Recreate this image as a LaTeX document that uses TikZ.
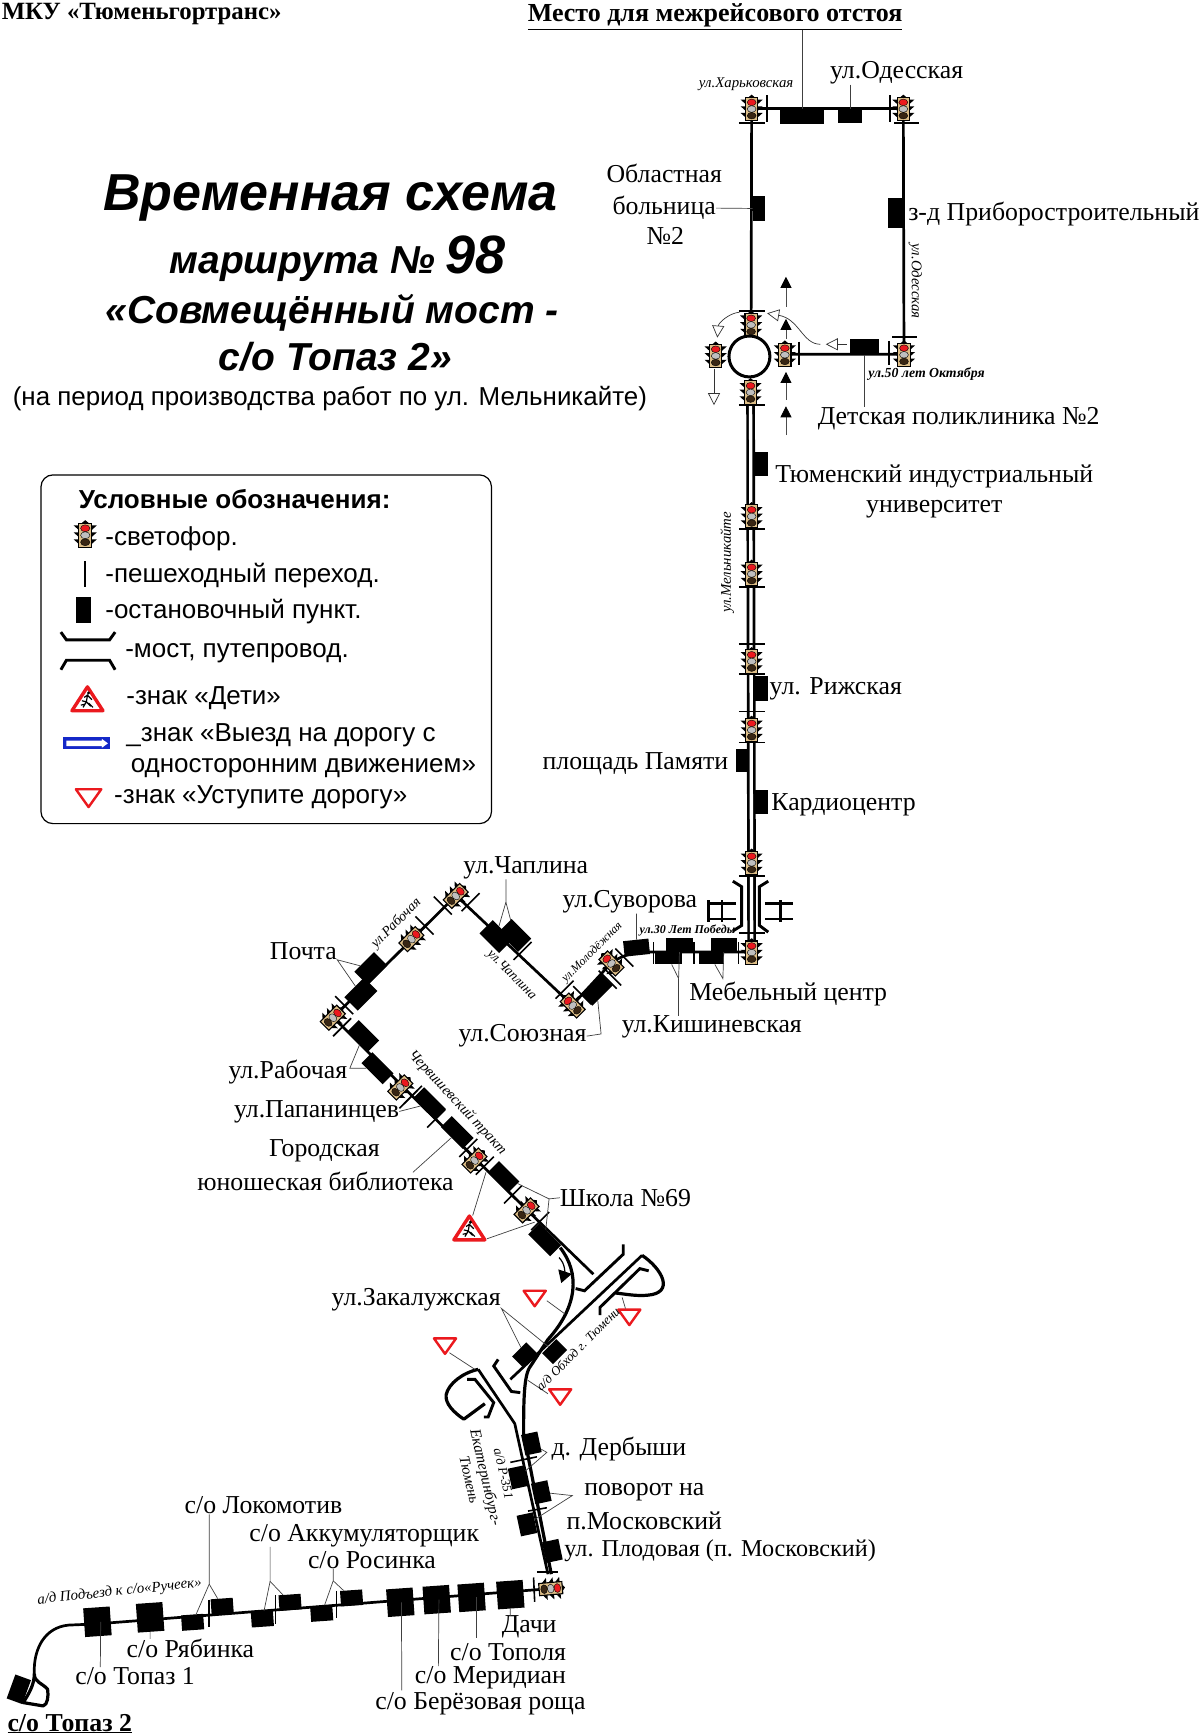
\documentclass[tikz,border=0pt]{standalone}
\usepackage{fontspec}
\setmainfont{Liberation Serif}
\newfontfamily\arialf{Liberation Sans}
\usetikzlibrary{arrows.meta}
\definecolor{lamptan}{RGB}{222,190,135}
\definecolor{signred}{RGB}{235,25,30}
\definecolor{signblue}{RGB}{20,40,200}
\tikzset{
  road/.style={line width=2.7pt},
  dblroad/.style={double,line width=2.7pt,double distance=3.3pt},
  ramp/.style={line width=3.2pt,line join=round},
  brace/.style={line width=2.9pt,line join=miter},
  crossing/.style={line width=1.6pt},
  leader/.style={line width=.7pt,black!75},
  stopbox/.style 2 args={fill=black,inner sep=0,minimum width=#1*1.107pt,minimum height=#2*1.107pt},
  lbl/.style={font=\fontsize{25.8}{28}\selectfont,inner sep=0,yshift=-2.2pt},
  strname/.style={font=\itshape\fontsize{14.8}{16}\selectfont,inner sep=0},
  strthin/.style={font=\itshape\fontsize{13}{14}\selectfont,inner sep=0},
  strbold/.style={font=\bfseries\itshape\fontsize{13.8}{15}\selectfont,inner sep=0},
  lgd/.style={font=\arialf\fontsize{26}{28}\selectfont,inner sep=0,anchor=west,yshift=-2.2pt},
  ttl/.style={font=\arialf\bfseries\itshape,inner sep=0},
  tlight/.pic={
    \fill[black] (-5,-8) -- (-10,-8) -- (-5,-3.5) -- cycle (-5,-2) -- (-10,-2) -- (-5,2.5) -- cycle (-5,4) -- (-10,4) -- (-5,8.5) -- cycle;
    \fill[black] (5,-8) -- (10,-8) -- (5,-3.5) -- cycle (5,-2) -- (10,-2) -- (5,2.5) -- cycle (5,4) -- (10,4) -- (5,8.5) -- cycle;
    \fill[black] (-3,-10) -- (0,-12.5) -- (3,-10) -- cycle;
    \filldraw[fill=lamptan,draw=black,line width=1.1pt] (-5.5,-10) rectangle (5.5,11);
    \filldraw[fill=signred,draw=black,line width=.4pt] (0,-5.5) ellipse (4 and 3);
    \filldraw[fill=black!25,draw=black,line width=.4pt] (0,.5) ellipse (4 and 3);
    \filldraw[fill=black!70!brown,draw=black,line width=.4pt] (0,6.5) ellipse (4 and 3);
  },
  yieldsign/.pic={
    \draw[signred,line width=2.4pt,line join=round,fill=white] (-10,-7) -- (10,-7) -- (0,7) -- cycle;
  },
  kidsign/.pic={
    \draw[signred,line width=3.4pt,line join=round,fill=white] (-14,11) -- (14,11) -- (0,-10.5) -- cycle;
    \draw[black,line width=1.2pt] (-4,8) -- (-1,3) -- (3,7) (-5,2) -- (-1,3) -- (0,-3) -- (4,1) (-3,-1) -- (0,-3) (-2,5) -- (-6,6) (1,4) -- (5,8);
    \fill[black] (1,-5) circle (1.5);
  }
}
\begin{document}
\begin{tikzpicture}[x=1.107pt,y=-1.107pt]
  \useasboundingbox (0,0) rectangle (1084,1567.3);
  \fill[white] (0,0) rectangle (1084,1567.3);
  % signals
  \coordinate (sigHark) at (679,98);
  \coordinate (sigOdes) at (816,98);
  \coordinate (sigFifty) at (816.6,320);
  \coordinate (sigRingN) at (678.5,293);
  \coordinate (sigRingE) at (709,320);
  \coordinate (sigRingW) at (646.5,321);
  \coordinate (sigRingS) at (678,354);
  \coordinate (sigMelA) at (679,466);
  \coordinate (sigMelB) at (679,518);
  \coordinate (sigMelC) at (679,597);
  \coordinate (sigMelD) at (679,659);
  \coordinate (sigBrN) at (679,779);
  \coordinate (sigBrS) at (679,860);
  \coordinate (sigMol) at (552,870);
  \coordinate (sigSoy) at (517,908);
  \coordinate (sigChap) at (412,809);
  \coordinate (sigRab) at (372,848);
  \coordinate (sigPost) at (301,919);
  \coordinate (sigPap) at (362,982);
  \coordinate (sigLib) at (429,1048);
  \coordinate (sigSch) at (476,1093);
  \coordinate (sigPlod) at (498,1435);
  % road
  \draw[road] (sigHark) -- (sigOdes) -- (sigFifty) -- (sigRingE);
  \draw[road] (sigHark) -- (sigRingN);
  \draw[dblroad] (sigRingS) -- (sigBrS);
  \draw[road] (sigBrS) -- (590,860) .. controls (575,860) and (565,861) .. (sigMol) -- (sigSoy) -- (sigChap) -- (sigPost) -- (sigSch) -- (536,1151);
  \draw[ramp] (506,1127) .. controls (524,1150) and (522,1180) .. (495,1210) -- (478,1236) .. controls (473,1245) and (473,1270) .. (473,1295) -- (498,1422);
  \draw[road] (580,1134) -- (461,1246);
  \draw[ramp] (580,1134) .. controls (598,1146) and (610,1168) .. (585,1170) .. controls (575,1171) and (565,1169) .. (556,1168);
  \draw[road] (432,1237) -- (465,1286) -- (495,1422);
  \draw[ramp] (432,1237) .. controls (418,1240) and (405,1250) .. (403,1260) .. controls (402,1268) and (410,1276) .. (419,1282) -- (438,1268);
  \draw[road] (sigPlod) -- (86,1467) -- (62,1468) .. controls (40,1470) and (30,1490) .. (31,1512);
  \draw[ramp] (31,1512) .. controls (31,1520) and (38,1520) .. (43,1526) .. controls (44,1532) and (43,1540) .. (39,1541) -- (21,1538) .. controls (26,1530) and (31,1522) .. (31,1512);
  \draw[brace] (542,1188) -- (542,1181) -- (578,1146) -- (586,1148);
  \draw[brace] (563,1124) -- (563,1133) -- (528,1166) -- (520,1164);
  \draw[brace] (450,1228) -- (446,1234) -- (462,1257) -- (470,1258);
  \draw[brace] (422,1246) -- (429,1246) -- (446,1267) -- (441,1280) -- (437,1280);
  % bridge
  \draw[brace] (662,796) -- (670,801) -- (670,836) -- (662,841);
  \draw[brace] (694,796) -- (686,801) -- (686,836) -- (694,842);
  \draw[line width=2.5pt] (640,813) -- (640,833) (652,813) -- (652,833) (640,816) -- (665,816) (640,830) -- (665,830);
  \draw[line width=2.5pt] (705,813) -- (705,833) (691,816) -- (716,816) (691,830) -- (716,830);
  % stops
  \node[stopbox={39.5}{13.5}] (stDepot) at (724.5,105.3) {};
  \node[stopbox={22}{12.5}] (stOdes) at (768,104.8) {};
  \node[stopbox={11}{22.5}] (stObl) at (685.5,188.3) {};
  \node[stopbox={15}{26.5}] (stZavod) at (809.5,192.3) {};
  \node[stopbox={26}{14}] (stDet) at (781,313.4) {};
  \node[stopbox={14}{22}] (stTiu) at (687,419) {};
  \node[stopbox={14}{22}] (stRig) at (687,622) {};
  \node[stopbox={12}{20}] (stPam) at (671,687) {};
  \node[stopbox={13}{21}] (stCard) at (687.5,724.5) {};
  \node[stopbox={24}{13}] (stKishA) at (614,853.5) {};
  \node[stopbox={24}{11}] (stKishB) at (604,865.5) {};
  \node[stopbox={24}{13}] (stMebA) at (654,853.5) {};
  \node[stopbox={23}{11}] (stMebB) at (642.5,865.5) {};
  \node[stopbox={23}{14},rotate=6] (stSuv) at (575,856) {};
  \node[stopbox={26}{15},rotate=45] (stSoy) at (539,894) {};
  \node[stopbox={25}{17},rotate=-45] (stChapA) at (448,846) {};
  \node[stopbox={25}{17},rotate=-45] (stChapB) at (465,845) {};
  \node[stopbox={25}{17},rotate=45] (stPostA) at (335,875) {};
  \node[stopbox={25}{17},rotate=45] (stPostB) at (326,898) {};
  \node[stopbox={26}{15},rotate=-45] (stRabA) at (328,936) {};
  \node[stopbox={27}{14},rotate=-45] (stRabB) at (341,965) {};
  \node[stopbox={28}{14},rotate=-45] (stPap) at (388,997) {};
  \node[stopbox={28}{14},rotate=-45] (stBib) at (413,1023) {};
  \node[stopbox={26}{14},rotate=-45] (stSchA) at (455,1063) {};
  \node[stopbox={28}{14},rotate=-45] (stSchB) at (492,1120) {};
  \node[stopbox={18}{14},rotate=45] (stZakA) at (474,1224) {};
  \node[stopbox={18}{14},rotate=45] (stZakB) at (501,1221) {};
  \node[stopbox={15}{19},rotate=12] (stDerA) at (480,1304) {};
  \node[stopbox={15}{19},rotate=12] (stDerB) at (468,1334.5) {};
  \node[stopbox={15}{19},rotate=12] (stPovA) at (489,1348) {};
  \node[stopbox={15}{19},rotate=12] (stPovB) at (476,1377) {};
  \node[stopbox={15}{19},rotate=12] (stPlod) at (499,1401) {};
  \node[stopbox={24}{25},rotate=4] (stDach) at (461,1440.5) {};
  \node[stopbox={24}{25},rotate=4] (stTop) at (426,1443) {};
  \node[stopbox={24}{25},rotate=4] (stMer) at (394.5,1445) {};
  \node[stopbox={24}{25},rotate=4] (stBer) at (361.6,1447.4) {};
  \node[stopbox={20}{14},rotate=4] (stRosA) at (317.6,1443.5) {};
  \node[stopbox={20}{14},rotate=4] (stRosB) at (290.6,1457.4) {};
  \node[stopbox={20}{14},rotate=4] (stAkkA) at (262,1447.4) {};
  \node[stopbox={20}{14},rotate=4] (stAkkB) at (237,1462.5) {};
  \node[stopbox={20}{14},rotate=4] (stLokA) at (200.7,1451) {};
  \node[stopbox={20}{14},rotate=4] (stLokB) at (174,1465.5) {};
  \node[stopbox={24}{26},rotate=4] (stRyab) at (135.6,1461) {};
  \node[stopbox={24}{26},rotate=4] (stTopOne) at (88,1465) {};
  \node[stopbox={15}{23},rotate=-20] (stTopTwo) at (17,1526) {};
  % pedestrian crossings
  \foreach \y in {111,281,366,478,530.5,582,609,642.6,670.6,791.5,843}{
    \draw[crossing] (667.5,\y) -- (691,\y);
  }
  \draw[crossing] (692.6,86) -- (692.6,110);
  \draw[crossing] (804,86) -- (804,110);
  \draw[crossing] (808,111) -- (830,111);
  \draw[crossing] (721.6,308.5) -- (721.6,330);
  \draw[crossing] (803,308) -- (803,330);
  \draw[crossing] (806,304.4) -- (828,304.4);
  \foreach \x in {590.5,627,667}{
    \draw[crossing] (\x,851) -- (\x,871);
  }
  \foreach \cx/\cy in {400/818,383.5/836,311/908,526/899,549/885,553/882,564/865}{
    \draw[crossing] (\cx,\cy) ++(45:11.5) -- ++(225:23);
  }
  \foreach \cx/\cy in {425/815,472/859,510/894,309/928,373/989,369/993,394/1010.5,423/1037,438/1053,463.5/1079,488/1103}{
    \draw[crossing] (\cx,\cy) ++(-45:11.5) -- ++(135:23);
  }
  \draw[crossing] (461,1321) -- (485,1316);
  \draw[crossing] (477,1365) -- (494,1362);
  \draw[crossing] (485,1420) -- (504,1420);
  \draw[crossing] (482,1425) -- (483,1447);
  \draw[crossing] (188.6,1445) -- (188.6,1470);
  \draw[crossing] (249,1441) -- (249,1467);
  \draw[crossing] (304,1437) -- (304,1462);
  % signals on top
  \foreach \s in {sigHark,sigOdes,sigFifty,sigRingN,sigRingE,sigRingW,sigRingS,sigMelA,sigMelB,sigMelC,sigMelD,sigBrN,sigBrS}{
    \pic at (\s) {tlight};
  }
  \foreach \s in {sigChap,sigRab,sigPost,sigPap,sigLib,sigSch}{
    \pic[rotate=-45] at (\s) {tlight};
  }
  \foreach \s in {sigMol,sigSoy}{
    \pic[rotate=45] at (\s) {tlight};
  }
  \pic[rotate=-85] at (sigPlod) {tlight};
  \node[circle,draw,fill=white,line width=3pt,minimum size=37*1.107pt,inner sep=0] (ring) at (677,322) {};
  % traffic arrows
  \coordinate (upAa) at (710,277); \coordinate (upAb) at (710,250);
  \coordinate (upBa) at (710,306); \coordinate (upBb) at (710,288);
  \coordinate (upCa) at (710,361); \coordinate (upCb) at (710,336);
  \coordinate (upDa) at (710,393); \coordinate (upDb) at (710,367);
  \foreach \a/\b in {upAa/upAb,upBa/upBb,upCa/upCb,upDa/upDb}{
    \draw[line width=.8pt,black!70,-{Triangle[length=11pt,width=11pt,color=black]}] (\a) -- (\b);
  }
  \coordinate (wtAa) at (765,311); \coordinate (wtAb) at (746,311);
  \coordinate (wtBa) at (741,311); \coordinate (wtBb) at (693,283);
  \coordinate (wtCa) at (668,282); \coordinate (wtCb) at (648,305);
  \coordinate (wtDa) at (645,333); \coordinate (wtDb) at (645,366);
  \tikzset{wtarrow/.style={line width=.7pt,black!80,-{Triangle[open,fill=white,length=12pt,width=12pt]}}}
  \draw[wtarrow] (wtAa) -- (wtAb);
  \draw[wtarrow] (wtBa) .. controls (725,311) and (722,288) .. (wtBb);
  \draw[wtarrow] (wtCa) .. controls (658,283) and (649,292) .. (wtCb);
  \draw[wtarrow] (wtDa) -- (wtDb);
  \coordinate (trnA) at (505,1136);
  \coordinate (trnB) at (507,1159);
  \draw[line width=1.2pt,-{Triangle[length=12pt,width=14pt]}] (trnA) .. controls (511,1142) and (510,1150) .. (trnB);
  % signs
  \coordinate (ygA) at (483,1173);
  \coordinate (ygB) at (402,1216);
  \coordinate (ygC) at (506,1262);
  \coordinate (ygD) at (568.5,1190);
  \foreach \s in {ygA,ygB,ygC,ygD}{
    \pic at (\s) {yieldsign};
  }
  \coordinate (kidMain) at (424,1109);
  \pic at (kidMain) {kidsign};
  \coordinate (ygAe) at (510.4,1187);
  \coordinate (ygBe) at (429,1237);
  \coordinate (ygCe) at (477,1247);
  \coordinate (ygDe) at (562,1172);
  \draw[leader] (494,1175) -- (ygAe);
  \draw[leader] (406,1222) -- (ygBe);
  \draw[leader] (495,1259) -- (ygCe);
  \draw[leader] (565,1182) -- (ygDe);
  \coordinate (kidA) at (439,1059);
  \coordinate (kidB) at (483,1104);
  \draw[leader] (427,1098) -- (kidA);
  \draw[leader] (440,1119) -- (kidB);
  % names
  \node[font=\bfseries\fontsize{24.8}{27}\selectfont,inner sep=0] (org) at (128,13) {МКУ «Тюменьгортранс»};
  \node[font=\bfseries\fontsize{26}{28}\selectfont,inner sep=0] (depot) at (646,15) {\underline{Место для межрейсового отстоя}};
  \node[lbl] (lblOdes) at (810,64) {ул.Одесская};
  \node[lbl] (lblOblA) at (600,155) {Областная};
  \node[lbl] (lblOblB) at (600,186) {больница};
  \node[lbl] (lblOblC) at (601,211) {№2};
  \node[lbl] (lblZavod) at (952,191) {з-д Приборостроительный};
  \node[lbl] (lblDet) at (866,376) {Детская поликлиника №2};
  \node[lbl] (lblTiuA) at (844,428) {Тюменский индустриальный};
  \node[lbl] (lblTiuB) at (844,458) {университет};
  \node[lbl] (lblRig) at (755,620) {ул. Рижская};
  \node[lbl] (lblPam) at (574,688) {площадь Памяти};
  \node[lbl] (lblCard) at (762,725) {Кардиоцентр};
  \node[lbl] (lblChap) at (475,782) {ул.Чаплина};
  \node[lbl] (lblSuv) at (569,813) {ул.Суворова};
  \node[lbl] (lblPost) at (274,857) {Почта};
  \node[lbl] (lblMeb) at (712,896) {Мебельный центр};
  \node[lbl] (lblKish) at (643,926) {ул.Кишиневская};
  \node[lbl] (lblSoy) at (472,934) {ул.Союзная};
  \node[lbl] (lblRab) at (260,966) {ул.Рабочая};
  \node[lbl] (lblPap) at (286,1002) {ул.Папанинцев};
  \node[lbl] (lblGorA) at (293,1038) {Городская};
  \node[lbl] (lblGorB) at (294,1065) {юношеская библиотека};
  \node[lbl] (lblSch) at (565,1080) {Школа №69};
  \node[lbl] (lblZak) at (376,1172) {ул.Закалужская};
  \node[lbl] (lblDer) at (559,1307) {д. Дербыши};
  \node[lbl] (lblPovA) at (582,1346) {поворот на};
  \node[lbl] (lblPovB) at (582,1372) {п.Московский};
  \node[lbl,font=\fontsize{24.2}{26}\selectfont] (lblPlod) at (650.5,1399) {ул. Плодовая (п. Московский)};
  \node[lbl] (lblLok) at (238,1358) {с/о Локомотив};
  \node[lbl] (lblAkk) at (329,1385) {с/о Аккумуляторщик};
  \node[lbl] (lblRos) at (336,1407) {с/о Росинка};
  \node[lbl] (lblDach) at (478,1468) {Дачи};
  \node[lbl] (lblRyab) at (172,1487) {с/о Рябинка};
  \node[lbl] (lblTopl) at (459,1490) {с/о Тополя};
  \node[lbl] (lblTopOne) at (122,1512) {с/о Топаз 1};
  \node[lbl] (lblMer) at (443,1514) {с/о Меридиан};
  \node[lbl] (lblBer) at (434,1537) {с/о Берёзовая роща};
  \node[font=\bfseries\fontsize{25.8}{28}\selectfont,inner sep=0] (lblTopTwo) at (63,1557) {\underline{с/о Топаз 2}};
  % street names
  \node[strname] (strHark) at (674,76) {ул.Харьковская};
  \node[strname,rotate=-90] (strOdes) at (827,254) {ул.Одесская};
  \node[strbold] (strFifty) at (837,338) {ул.50 лет Октября};
  \node[strname,rotate=90] (strMel) at (657,508) {ул.Мельникайте};
  \node[strbold,font=\bfseries\itshape\fontsize{12}{14}\selectfont] (strPob) at (621,841) {ул.30 Лет Победы};
  \node[strname,font=\itshape\fontsize{14}{16}\selectfont,rotate=45] (strRab) at (358,834) {ул.Рабочая};
  \node[strname,font=\itshape\fontsize{13.5}{16}\selectfont,rotate=-45] (strChap) at (462,881) {ул.Чаплина};
  \node[strname,font=\itshape\fontsize{12}{14}\selectfont,rotate=45] (strMol) at (535,860.5) {ул.Молодёжная};
  \node[strname,rotate=-47] (strChv) at (413,996) {Червишевский тракт};
  \node[strthin,rotate=45] (strObh) at (522,1218.5) {а/д Обход г. Тюмени};
  \node[strthin,rotate=-77] (strRA) at (455,1331) {а/д Р-351};
  \node[strthin,font=\itshape\fontsize{15.5}{16}\selectfont,rotate=-77] (strRB) at (438,1334.5) {Екатеринбург-};
  \node[strname,rotate=-77] (strRC) at (424,1337) {Тюмень};
  \node[strname,rotate=6] (strRuch) at (108,1438) {а/д Подъезд к с/о«Ручеек»};
  % leaders
  \draw[leader] (depot.south -| stDepot) -- (stDepot);
  \draw[leader] (lblOdes.south -| stOdes) -- (stOdes);
  \draw[leader] (lblOblB.east) -- (stObl.west);
  \draw[leader] (stDet) -- (stDet |- lblDet.north);
  \draw[leader] (lblSuv.south -| stSuv) -- (stSuv);
  \coordinate (apChap) at (457,815);
  \draw[leader] (lblChap.south -| apChap) -- (apChap) -- (stChapA);
  \draw[leader] (apChap) -- (stChapB);
  \coordinate (apPost) at (304.6,867);
  \draw[leader] (stPostA) -- (apPost) -- (stPostB);
  \coordinate (apSoy) at (543,934);
  \draw[leader] (lblSoy.east) -- (apSoy) -- (stSoy);
  \coordinate (apKish) at (613,884);
  \draw[leader] (stKishB) -- (apKish) -- (stKishA);
  \draw[leader] (apKish) -- (apKish |- lblKish.north);
  \coordinate (apMeb) at (653,884);
  \draw[leader] (stMebB) -- (apMeb) -- (stMebA);
  \coordinate (apRab) at (316,965);
  \draw[leader] (stRabA) -- (apRab) -- (stRabB);
  \draw[leader] (lblPap.east) -- (stPap);
  \draw[leader] (stBib) -- (373,1059);
  \coordinate (apSch) at (496,1083);
  \draw[leader] (lblSch.west) -- (apSch) -- (stSchA);
  \draw[leader] (apSch) -- (stSchB);
  \coordinate (apZak) at (453,1182);
  \draw[leader] (stZakA) -- (apZak) -- (stZakB);
  \coordinate (apDer) at (494,1312);
  \draw[leader] (stDerA) -- (apDer) -- (stDerB);
  \coordinate (apPov) at (517,1351);
  \draw[leader] (stPovA) -- (apPov) -- (stPovB);
  \coordinate (apLok) at (189,1431);
  \draw[leader] (lblLok.south -| apLok) -- (apLok) -- (stLokB);
  \draw[leader] (apLok) -- (stLokA);
  \coordinate (apAkk) at (244,1428.5);
  \draw[leader] (lblAkk.south -| apAkk) -- (apAkk) -- (stAkkB);
  \draw[leader] (apAkk) -- (stAkkA);
  \coordinate (apRos) at (301,1428);
  \draw[leader] (lblRos.south -| apRos) -- (apRos) -- (stRosB);
  \draw[leader] (apRos) -- (stRosA);
  \draw[leader] (stRyab) -- (stRyab |- lblRyab.north);
  \draw[leader] (stTopOne) ++(3,0) -- (lblTopOne.north -| 90.6,0);
  \draw[leader] (stDach) -- (stDach |- lblDach.north);
  \draw[leader] (stTop) ++(4,0) -- (430,1480);
  \draw[leader] (stMer) ++(2,0) -- (396,1505);
  \draw[leader] (stBer) ++(1,0) -- (363,1527);
  % title
  \node[ttl,font=\arialf\bfseries\itshape\fontsize{52}{56}\selectfont] (ttlA) at (298.5,179) {Временная схема};
  \node[ttl,font=\arialf\bfseries\itshape\fontsize{39}{42}\selectfont] (ttlB) at (305,234) {маршрута № {\fontsize{54}{58}\selectfont 98}};
  \node[ttl,font=\arialf\bfseries\itshape\fontsize{39}{42}\selectfont] (ttlC) at (300,283) {«Совмещённый мост -};
  \node[ttl,font=\arialf\bfseries\itshape\fontsize{39}{42}\selectfont] (ttlD) at (303,322) {с/о Топаз 2»};
  \node[font=\arialf\fontsize{25.9}{28}\selectfont,inner sep=0] (ttlE) at (298,360) {(на период производства работ по ул. Мельникайте)};
  % legend
  \node[draw,line width=1.2pt,rounded corners=12pt,inner sep=0,minimum width=407*1.107pt,minimum height=315*1.107pt] (legend) at (240.5,586.5) {};
  \node[lgd,font=\arialf\bfseries\fontsize{26}{28}\selectfont] (lgHead) at (71,449) {Условные обозначения:};
  \coordinate (lgSig) at (77,483);
  \pic[scale=1.05] at (lgSig) {tlight};
  \node[lgd] (lgTxtA) at (95,485) {-светофор.};
  \draw[line width=1.6pt] (77,507) -- (77,530);
  \node[lgd] (lgTxtB) at (95,518) {-пешеходный переход.};
  \node[stopbox={13}{24}] (lgStop) at (75.5,551) {};
  \node[lgd] (lgTxtC) at (95,550) {-остановочный пункт.};
  \draw[brace] (55,571) -- (60,578) -- (99,578) -- (104,571);
  \draw[brace] (55,605) -- (60,596.4) -- (99,596.4) -- (104,605);
  \node[lgd] (lgTxtD) at (113,588) {-мост, путепровод.};
  \coordinate (lgKid) at (79,631);
  \pic at (lgKid) {kidsign};
  \node[lgd] (lgTxtE) at (114,629) {-знак «Дети»};
  \fill[signblue] (57,666) rectangle (99,677);
  \fill[white] (60,669) -- (92,669) -- (92,667.5) -- (97.5,671.5) -- (92,675.5) -- (92,674) -- (60,674) -- cycle;
  \node[lgd] (lgTxtF) at (114,662) {\_знак «Выезд на дорогу с};
  \node[lgd] (lgTxtG) at (118,692) {односторонним движением»};
  \coordinate (lgYield) at (80,721);
  \pic[scale=1.15] at (lgYield) {yieldsign};
  \node[lgd] (lgTxtH) at (103,718) {-знак «Уступите дорогу»};
\end{tikzpicture}
\end{document}
